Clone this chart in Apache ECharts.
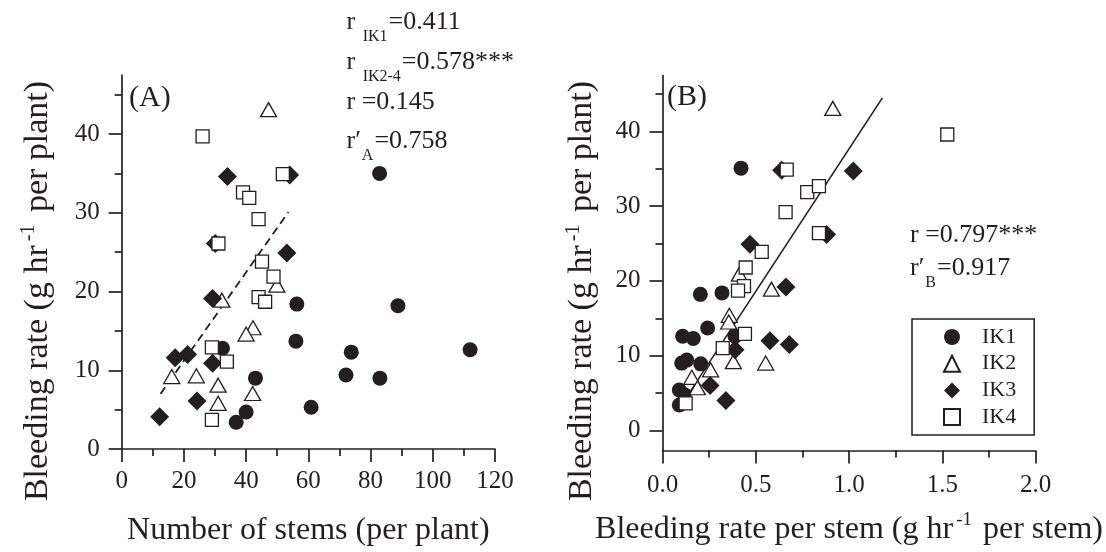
<!DOCTYPE html>
<html><head><meta charset="utf-8">
<script src="https://cdn.jsdelivr.net/npm/echarts@6/dist/echarts.min.js"></script>
<style>html,body{margin:0;padding:0;background:#fff}#c{width:1106px;height:552px}</style>
</head><body><div id="c"></div>
<script>
// ---------- data ----------
const seriesNames = ['IK1', 'IK2', 'IK3', 'IK4'];

// Panel A: number of stems vs bleeding rate per plant
const ik1A = [[32.4,12.8],[43,9.0],[40,4.7],[36.8,3.4],[56.3,18.4],[56,13.7],[60.9,5.3],[72.1,9.4],[73.8,12.3],[83,9.0],[88.8,18.2],[112,12.6],[82.9,35.0]];
const ik2A = [[47.2,43.1],[32.2,18.9],[49.9,20.8],[42.2,15.4],[40,14.6],[16.1,9.2],[24,9.3],[31,8.1],[42.1,7.05],[31,5.8]];
const ik3A = [[34,34.6],[54,34.8],[30.1,26.1],[53.1,24.9],[29.2,19.1],[21.2,12.0],[17.2,11.6],[29.2,10.9],[24.2,6.1],[12.2,4.1]];
const ik4A = [[26,39.7],[51.8,34.9],[39,32.6],[41,31.9],[44,29.2],[31.1,26.1],[45.1,23.8],[48.8,21.9],[44,19.3],[46.1,18.7],[29,12.9],[33.8,11.1],[29,3.7]];
const fitA = [[12.5,7.0],[53.6,30.1]];

// Panel B: bleeding rate per stem vs bleeding rate per plant
const ik1B = [[0.421,35.1],[0.203,18.2],[0.319,18.4],[0.242,13.7],[0.108,12.6],[0.165,12.3],[0.389,12.6],[0.103,9.0],[0.130,9.4],[0.205,8.9],[0.090,5.4],[0.117,4.8],[0.090,3.4]];
const ik2B = [[0.913,43.1],[0.412,20.9],[0.584,18.9],[0.358,15.4],[0.355,14.5],[0.380,9.2],[0.553,9.0],[0.258,8.1],[0.157,7.1],[0.187,5.7]];
const ik3B = [[0.639,34.8],[1.023,34.7],[0.880,26.2],[0.469,24.9],[0.662,19.2],[0.576,12.0],[0.680,11.5],[0.389,10.8],[0.255,6.0],[0.340,4.0]];
const ik4B = [[0.666,34.9],[0.776,31.9],[0.839,32.7],[0.660,29.2],[0.839,26.4],[0.532,23.9],[0.446,21.8],[0.437,19.3],[0.405,18.7],[0.442,12.9],[0.323,11.0],[0.124,3.6],[1.527,39.6]];
const fitB = [[0.094,3.1],[1.179,44.5]];

// ticks
const xTicksA = [0,20,40,60,80,100,120];
const xMinorA = [10,30,50,70,90,110];
const xTicksB = [0,0.5,1.0,1.5,2.0];
const xMinorB = [0.25,0.75,1.25,1.75];
const yTicks = [0,10,20,30,40];
const yMinor = [5,15,25,35,45];

// texts
const xTitleA = 'Number of stems (per plant)';
const xTitleB = '{m|Bleeding rate per stem (g hr}{sup|-1}{m| per stem)}';
const yTitle = '{y|Bleeding rate (g hr}{ysup|-1}{y| per plant)}';
const annotA = [['r ', 'IK1', '=0.411'], ['r ', 'IK2-4', '=0.578***'], ['r =0.145', '', ''], ['r\u2032', 'A', '=0.758']];
const annotB = [['r =0.797***', '', ''], ['r\u2032', 'B', '=0.917']];
const panelLabels = ['(A)', '(B)'];

// ---------- styling ----------
const FONT = "'Liberation Serif','Times New Roman',serif";
const INK = '#231f20';
const symStyle = {
  IK1: {symbol: 'circle', symbolSize: 15, itemStyle: {color: INK, opacity: 1}},
  IK2: {symbol: 'triangle', symbolSize: [16, 14], itemStyle: {color: '#fff', borderColor: INK, borderWidth: 1.3, opacity: 1}},
  IK3: {symbol: 'diamond', symbolSize: 19, itemStyle: {color: INK, opacity: 1}},
  IK4: {symbol: 'rect', symbolSize: 13, itemStyle: {color: '#fff', borderColor: INK, borderWidth: 1.3, opacity: 1}}
};
const richTitle = {
  m: {fontFamily: FONT, fontSize: 32, color: INK, verticalAlign: 'bottom'},
  sup: {fontFamily: FONT, fontSize: 19, color: INK, verticalAlign: 'bottom', padding: [0, 3, 16, 3]},
  y: {fontFamily: FONT, fontSize: 34, color: INK, verticalAlign: 'bottom'},
  ysup: {fontFamily: FONT, fontSize: 20, color: INK, verticalAlign: 'bottom', padding: [0, 4, 16, 4]}
};

function axisCommon(gridIndex, min, max, pos) {
  return {type: 'value', gridIndex, min, max, position: pos, splitLine: {show: false}};
}
function mainAxis(gridIndex, min, max, pos, ticks, fmt, margin) {
  return Object.assign(axisCommon(gridIndex, min, max, pos), {
    axisLine: {show: true, onZero: false, lineStyle: {color: INK, width: 1.7}},
    axisTick: {show: true, inside: false, length: 13, customValues: ticks, lineStyle: {color: INK, width: 1.7}},
    axisLabel: {show: true, customValues: ticks, margin, formatter: fmt, color: INK, fontFamily: FONT, fontSize: 25}
  });
}
function minorAxis(gridIndex, min, max, pos, ticks) {
  return Object.assign(axisCommon(gridIndex, min, max, pos), {
    axisLine: {show: false, onZero: false},
    axisTick: {show: true, inside: false, length: 7, customValues: ticks, lineStyle: {color: INK, width: 1.7}},
    axisLabel: {show: false}
  });
}

const xA = mainAxis(0, 0, 120, 'bottom', xTicksA, v => String(v), 20);
Object.assign(xA, {name: xTitleA, nameLocation: 'middle', nameGap: 66,
  nameTextStyle: {fontFamily: FONT, fontSize: 32, color: INK}});
const xB = mainAxis(1, 0, 2, 'bottom', xTicksB, v => v.toFixed(1), 22);
Object.assign(xB, {name: xTitleB, nameLocation: 'middle', nameGap: 60,
  nameTextStyle: {rich: richTitle}});
const yA = mainAxis(0, 0, 47.5, 'left', yTicks, v => String(v), 22);
Object.assign(yA, {name: yTitle, nameLocation: 'middle', nameGap: 67,
  nameTextStyle: {rich: richTitle, padding: [0, 58, 0, 0]}});
const yB = mainAxis(1, -2.7, 47.5, 'left', yTicks, v => String(v), 22);
Object.assign(yB, {name: yTitle, nameLocation: 'middle', nameGap: 63,
  nameTextStyle: {rich: richTitle, padding: [0, 56, 0, 0]}});

function scatter(name, data, xi, yi) {
  const s = symStyle[name];
  return {type: 'scatter', name, data, xAxisIndex: xi, yAxisIndex: yi,
    symbol: s.symbol, symbolSize: s.symbolSize, itemStyle: s.itemStyle, z: 3,
    emphasis: {disabled: true}};
}
function annotText(parts, x, y) {
  const t = parts[0] + (parts[1] ? '{sub|' + parts[1] + '}' : '') + parts[2];
  return {type: 'text', x, y, silent: true, style: {
    text: t, fill: INK, font: '26px ' + FONT, fontSize: 26, fontFamily: FONT,
    align: 'left', textAlign: 'left', verticalAlign: 'middle', textVerticalAlign: 'middle',
    rich: {sub: {fontSize: 16, fontFamily: FONT, fill: INK, color: INK, padding: [30, 1, 0, 1]}}
  }};
}

const annA_y = [22, 62, 102, 141];
const annB_y = [235, 268];
const graphic = [];
annotA.forEach((p, i) => graphic.push(annotText(p, 346.5, annA_y[i])));
annotB.forEach((p, i) => graphic.push(annotText(p, 910, annB_y[i])));
[[panelLabels[0], 129, 98], [panelLabels[1], 667, 97]].forEach(([t, x, y]) =>
  graphic.push({type: 'text', x, y, silent: true, style: {text: t, fill: INK, font: '30px ' + FONT,
    fontSize: 30, fontFamily: FONT, align: 'left', textAlign: 'left', verticalAlign: 'middle', textVerticalAlign: 'middle'}}));

const option = {
  animation: false,
  backgroundColor: '#fff',
  grid: [
    {left: 121.7, top: 75, width: 373.3, height: 374, outerBoundsMode: 'none', containLabel: false},
    {left: 662.5, top: 75.5, width: 373, height: 375, outerBoundsMode: 'none', containLabel: false}
  ],
  xAxis: [xA, minorAxis(0, 0, 120, 'bottom', xMinorA), xB, minorAxis(1, 0, 2, 'bottom', xMinorB)],
  yAxis: [yA, minorAxis(0, 0, 47.5, 'left', yMinor), yB, minorAxis(1, -2.7, 47.5, 'left', yMinor)],
  legend: {
    data: seriesNames, orient: 'vertical', left: 912, top: 319,
    padding: [7, 18, 7, 31], itemGap: 4.7, itemWidth: 16, itemHeight: 16,
    borderColor: INK, borderWidth: 1.5, borderRadius: 0, backgroundColor: '#fff',
    selectedMode: false,
    textStyle: {fontFamily: FONT, fontSize: 22, color: INK, padding: [0, 0, 0, 17]}
  },
  series: [
    {type: 'line', data: fitA, xAxisIndex: 0, yAxisIndex: 0, showSymbol: false, silent: true, z: 2,
      lineStyle: {color: INK, width: 1.8, type: [8, 5]}},
    {type: 'line', data: fitB, xAxisIndex: 2, yAxisIndex: 2, showSymbol: false, silent: true, z: 2,
      lineStyle: {color: INK, width: 1.6, type: 'solid'}},
    scatter('IK1', ik1A, 0, 0), scatter('IK2', ik2A, 0, 0), scatter('IK3', ik3A, 0, 0), scatter('IK4', ik4A, 0, 0),
    scatter('IK1', ik1B, 2, 2), scatter('IK2', ik2B, 2, 2), scatter('IK3', ik3B, 2, 2), scatter('IK4', ik4B, 2, 2)
  ],
  graphic
};
const chart = echarts.init(document.getElementById('c'), null, {renderer: 'canvas'});
chart.setOption(option);
</script>
</body></html>
